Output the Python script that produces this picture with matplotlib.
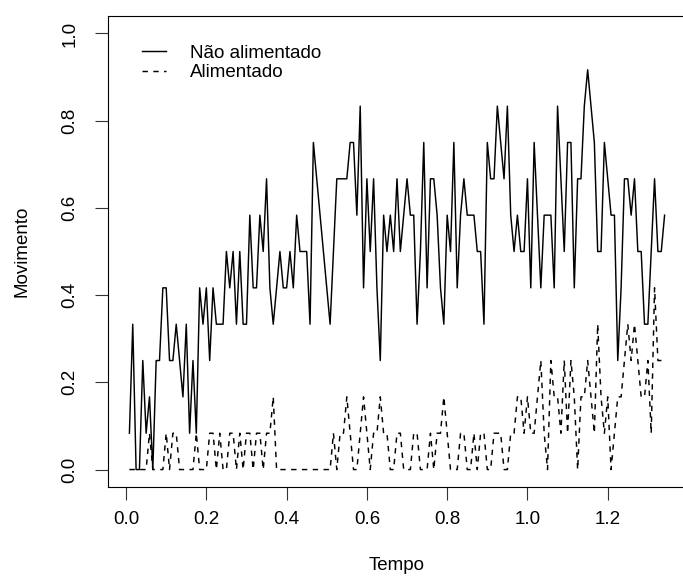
import matplotlib
matplotlib.use("Agg")
import matplotlib.pyplot as plt
import numpy as np

plt.rcParams['font.family'] = ['Liberation Sans', 'DejaVu Sans']

# Movement scores, in twelfths, one sample every 1/120 of the time unit
nao_alimentado_12 = [
    1, 4, 0, 0, 3, 1, 2, 0, 3, 3, 5, 5, 3, 3, 4, 3, 2, 4,
    1, 3, 1, 5, 4, 5, 3, 5, 4, 4, 4, 6, 5, 6, 4, 6, 4, 4,
    7, 5, 5, 7, 6, 8, 5, 4, 5, 6, 5, 5, 6, 5, 7, 6, 6, 6,
    4, 9, 8, 7, 6, 5, 4, 6, 8, 8, 8, 8, 9, 9, 7, 10, 5, 8,
    6, 8, 5, 3, 7, 6, 7, 6, 8, 6, 7, 8, 7, 7, 4, 6, 9, 5,
    8, 8, 7, 5, 4, 7, 6, 9, 5, 7, 8, 7, 7, 7, 6, 6, 4, 9,
    8, 8, 10, 9, 8, 10, 7, 6, 7, 6, 6, 8, 5, 9, 7, 5, 7, 7,
    7, 5, 10, 8, 6, 9, 9, 5, 8, 8, 10, 11, 10, 9, 6, 6, 9, 8,
    7, 7, 3, 5, 8, 8, 7, 8, 6, 6, 4, 4, 6, 8, 6, 6, 7,
]
alimentado_12 = [
    0, 0, 0, 0, 0, 0, 1, 0, 0, 0, 0, 1, 0, 1, 1, 0, 0, 0,
    0, 0, 1, 0, 0, 0, 1, 1, 0, 1, 0, 0, 1, 1, 0, 1, 0, 1,
    1, 0, 1, 1, 0, 1, 1, 2, 0, 0, 0, 0, 0, 0, 0, 0, 0, 0,
    0, 0, 0, 0, 0, 0, 0, 1, 0, 1, 1, 2, 1, 0, 0, 1, 2, 1,
    0, 1, 1, 2, 1, 1, 0, 0, 1, 1, 0, 0, 0, 1, 1, 0, 0, 0,
    1, 0, 1, 1, 2, 1, 0, 0, 0, 1, 1, 0, 0, 1, 0, 1, 1, 0,
    0, 1, 1, 1, 0, 0, 1, 1, 2, 2, 1, 2, 1, 1, 2, 3, 1, 0,
    3, 2, 2, 1, 3, 1, 3, 2, 0, 2, 2, 3, 2, 1, 4, 2, 1, 2,
    0, 1, 2, 2, 3, 4, 3, 4, 3, 2, 2, 3, 1, 5, 3, 3, 3,
]

tempo = np.arange(1, len(nao_alimentado_12) + 1) / 120
nao_alimentado = np.array(nao_alimentado_12) / 12
alimentado = np.array(alimentado_12) / 12

x_ticks = [0.0, 0.2, 0.4, 0.6, 0.8, 1.0, 1.2]
y_ticks = [0.0, 0.2, 0.4, 0.6, 0.8, 1.0]

W, H = 683, 580
fig = plt.figure(figsize=(W / 100, H / 100), dpi=100)
ax = fig.add_axes([108 / W, 1 - 487 / H, (686 - 108) / W, (487 - 16) / H])

ax.plot(tempo, nao_alimentado, color='black', lw=1.05,
        label='Não alimentado')
ax.plot(tempo, alimentado, color='black', lw=1.05,
        linestyle=(0, (3.7, 3.7)), label='Alimentado')

# R-style 4% padding around the data range
span = tempo.max() - tempo.min()
ax.set_xlim(tempo.min() - 0.04 * span, tempo.max() + 0.04 * span)
ax.set_ylim(-0.04, 1.04)

ax.set_xticks(x_ticks)
ax.set_xticklabels([f'{t:.1f}' for t in x_ticks])
ax.set_yticks(y_ticks)
ax.set_yticklabels([f'{t:.1f}' for t in y_ticks])
ax.tick_params(direction='out', length=9.5, width=0.8, labelsize=13.5,
               color='#333333')
ax.tick_params(axis='x', pad=8)
ax.tick_params(axis='y', pad=12)
for lab in ax.get_yticklabels():
    lab.set_rotation(90)
    lab.set_va('center')

for side in ax.spines.values():
    side.set_linewidth(0.8)

ax.set_xlabel('Tempo', fontsize=13.5, va='center')
ax.xaxis.set_label_coords(0.5, -(566 - 487) / 471)
ax.set_ylabel('Movimento', fontsize=13.5, va='center')
ax.yaxis.set_label_coords(-(108 - 22) / 578, 0.5)

ax.legend(loc='upper left', bbox_to_anchor=(0.045, 0.955), frameon=False,
          fontsize=13.5, handlelength=1.3, handletextpad=1.3,
          labelspacing=0.12, borderaxespad=0)

fig.savefig('out.png', dpi=100)
